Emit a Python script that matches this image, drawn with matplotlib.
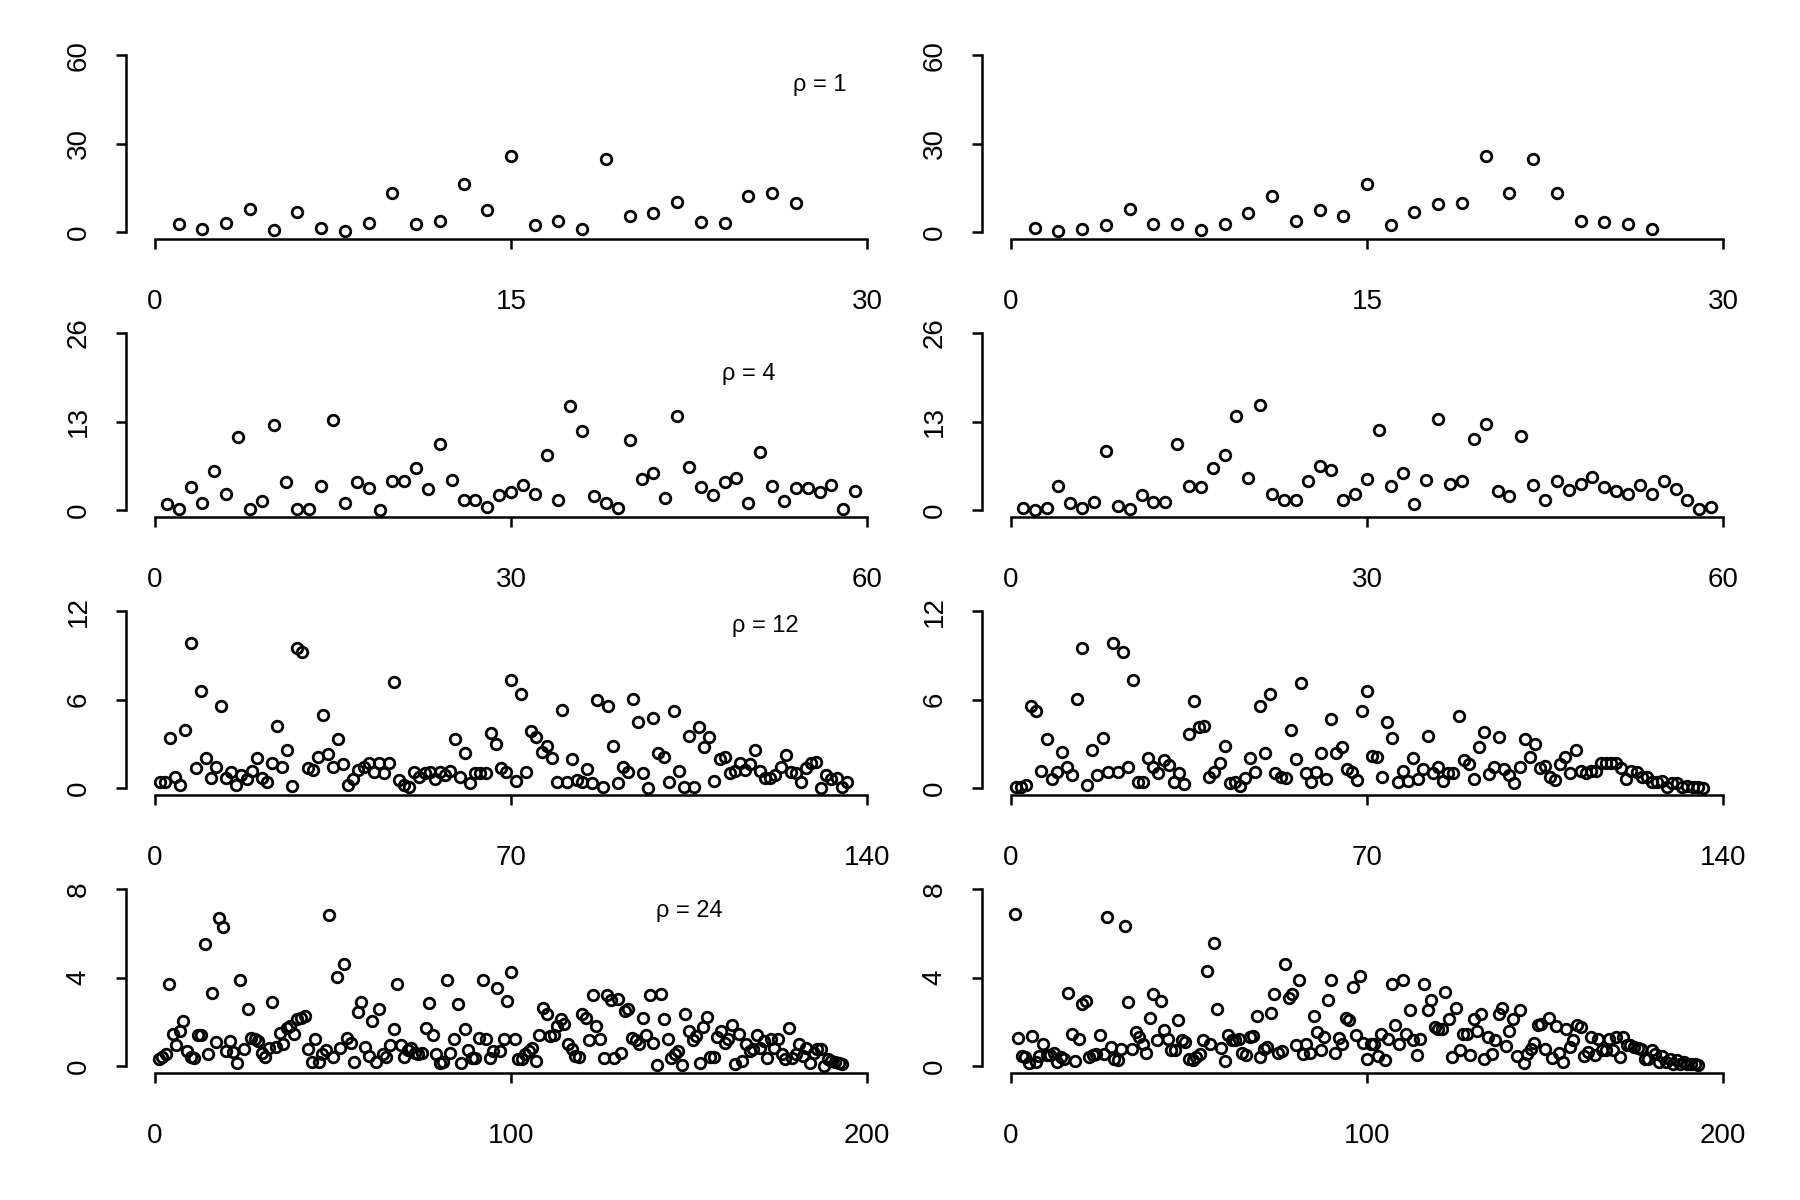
import numpy as np
import matplotlib
matplotlib.use("Agg")
import matplotlib.pyplot as plt

plt.rcParams["font.family"] = ["Liberation Sans", "DejaVu Sans"]

# valores (coluna esquerda / coluna direita)
rho = [1, 4, 12, 24]
x_max = [30, 60, 140, 200]
y_max = [60, 26, 12, 8]
x_ticks = [[0, 15, 30], [0, 30, 60], [0, 70, 140], [0, 100, 200]]
y_ticks = [[0, 30, 60], [0, 13, 26], [0, 6, 12], [0, 4, 8]]
rho_pos = [(28, 50), (50, 20), (120, 11), (150, 7)]

r1_left = [2.6, 0.9, 2.9, 7.9, 0.7, 6.8, 1.5, 0.4, 2.9, 13.2, 2.6, 3.7, 16.1, 7.4,
           25.7, 2.4, 3.7, 0.9, 24.9, 5.4, 6.4, 10.0, 3.5, 2.9, 12.3, 13.2, 9.8]
r1_right = [1.5, 0.3, 0.9, 2.4, 7.8, 2.7, 2.6, 0.8, 2.6, 6.4, 12.2, 3.6, 7.4, 5.4,
            16.3, 2.2, 6.8, 9.5, 9.9, 25.8, 13.2, 24.8, 13.3, 3.7, 3.5, 2.8, 0.9]

r2_left = [0.82, 0.19, 3.42, 1.07, 5.72, 2.29, 10.7, 0.09, 1.31, 12.5,
           4.16, 0.19, 0.09, 3.52, 13.27, 1.07, 4.16, 3.27, 0.05, 4.25,
           4.25, 6.17, 3.03, 9.7, 4.45, 1.41, 1.41, 0.43, 2.24, 2.64,
           3.67, 2.29, 8.03, 1.41, 15.3, 11.6, 2.1, 1.02, 0.33, 10.28,
           4.55, 5.38, 1.8, 13.81, 6.31, 3.42, 2.24, 4.06, 4.7, 1.07,
           8.57, 3.52, 1.36, 3.27, 3.27, 2.69, 3.67, 0.09, 2.83]
r2_right = [0.33, 0.04, 0.28, 3.52, 1.02, 0.28, 1.17, 8.62, 0.53, 0.19,
            2.15, 1.12, 1.17, 9.74, 3.47, 3.37, 6.21, 8.13, 13.86, 4.7,
            15.38, 2.39, 1.51, 1.51, 4.25, 6.41, 5.82, 1.51, 2.29, 4.5,
            11.7, 3.47, 5.48, 0.92, 4.35, 13.32, 3.76, 4.25, 10.38, 12.59,
            2.73, 2.0, 10.82, 3.62, 1.51, 4.25, 2.88, 3.76, 4.79, 3.37,
            2.78, 2.29, 3.62, 2.39, 4.25, 3.13, 1.41, 0.19, 0.43]

r3_left = [0.38, 0.42, 3.37, 0.76, 0.2, 3.93, 9.81, 1.33, 6.6, 2.05,
           0.65, 1.44, 5.56, 0.65, 1.06, 0.2, 0.88, 0.58, 1.17, 2.05,
           0.65, 0.42, 1.67, 4.23, 1.44, 2.57, 0.13, 9.47, 9.2, 1.38,
           1.22, 2.12, 4.95, 2.3, 1.44, 3.3, 1.62, 0.2, 0.58, 1.22,
           1.4, 1.67, 1.1, 1.67, 1.04, 1.67, 7.17, 0.54, 0.2, 0.09,
           1.06, 0.76, 0.99, 1.1, 0.58, 1.06, 0.88, 1.15, 3.3, 0.76,
           2.35, 0.36, 0.99, 0.99, 0.99, 3.71, 2.98, 1.33, 1.1, 7.33,
           0.49, 6.38, 1.1, 3.86, 3.48, 2.46, 2.85, 2.01, 0.42, 5.29,
           0.42, 1.94, 0.54, 0.42, 1.28, 0.36, 5.97, 0.09, 5.56, 2.85,
           0.36, 1.44, 1.06, 6.04, 4.45, 0.99, 0.02, 4.72, 2.39, 2.12,
           0.42, 5.24, 1.17, 0.09, 3.52, 0.09, 4.16, 2.8, 3.43, 0.47,
           1.94, 2.12, 0.99, 1.17, 1.67, 1.22, 1.6, 2.57, 1.17, 0.65,
           0.65, 0.88, 1.44, 2.23, 1.1, 0.99, 0.42, 1.33, 1.67, 1.78,
           0.02, 0.88, 0.61, 0.65, 0.09, 0.38]
r3_right = [0.09, 0.09, 0.2, 5.56, 5.22, 1.17, 3.3, 0.61, 1.1, 2.42,
            1.44, 0.88, 6.01, 9.47, 0.2, 2.57, 0.88, 3.41, 1.06, 9.81,
            1.1, 9.2, 1.4, 7.33, 0.42, 0.42, 2.01, 1.44, 0.99, 1.9,
            1.56, 0.42, 1.04, 0.24, 3.66, 5.92, 4.16, 4.23, 0.76, 1.1,
            1.67, 2.87, 0.36, 0.42, 0.13, 0.65, 2.05, 1.1, 5.56, 2.35,
            6.38, 0.99, 0.76, 0.65, 3.93, 1.96, 7.14, 0.99, 0.42, 1.1,
            2.35, 0.61, 4.68, 2.35, 2.8, 1.26, 1.1, 0.54, 5.24, 6.6,
            2.17, 2.12, 0.76, 4.45, 3.37, 0.38, 1.17, 0.47, 2.05, 0.58,
            1.28, 3.55, 0.99, 1.4, 0.47, 0.99, 1.04, 4.9, 1.9, 1.62,
            0.61, 2.8, 3.82, 0.95, 1.4, 3.43, 1.26, 0.88, 0.36, 1.4,
            3.3, 2.12, 2.98, 1.33, 1.49, 0.76, 0.54, 1.62, 2.08, 0.99,
            2.57, 1.17, 0.99, 1.17, 1.17, 1.67, 1.67, 1.67, 1.67, 1.38,
            0.61, 1.17, 1.06, 0.76, 0.76, 0.42, 0.42, 0.49, 0.09, 0.36,
            0.31, 0.04, 0.13, 0.09, 0.04, 0.01]

r4_left = [0.33, 0.4, 0.55, 3.69, 1.43, 0.95, 1.58, 2.03, 0.68, 0.4,
           0.37, 1.4, 1.4, 5.53, 0.52, 3.31, 1.08, 6.71, 6.3, 0.68,
           1.13, 0.65, 0.15, 3.87, 0.75, 2.56, 1.28, 1.2, 1.13, 0.6,
           0.4, 0.83, 2.89, 0.86, 1.51, 1.01, 1.73, 1.81, 1.46, 2.11,
           2.18, 2.26, 0.75, 0.19, 1.2, 0.19, 0.52, 0.71, 6.83, 0.4,
           4.02, 0.83, 4.6, 1.25, 1.05, 0.19, 2.46, 2.89, 0.86, 0.45,
           2.03, 0.19, 2.56, 0.52, 0.4, 0.95, 1.66, 3.69, 0.95, 0.4,
           0.71, 0.83, 0.6, 0.52, 0.6, 1.73, 2.86, 1.4, 0.52, 0.15,
           0.19, 3.87, 0.57, 1.2, 2.79, 0.15, 1.66, 0.71, 0.37, 0.37,
           1.28, 3.87, 1.2, 0.37, 0.68, 3.51, 0.68, 1.2, 2.94, 4.27,
           1.2, 0.3, 0.3, 0.52, 0.68, 0.83, 0.22, 1.4, 2.64, 2.33,
           1.35, 1.4, 1.81, 2.11, 1.88, 0.98, 0.75, 0.45, 0.4, 2.33,
           2.18, 1.16, 3.21, 1.81, 1.2, 0.37, 3.21, 2.97, 0.37, 3.01,
           0.6, 2.49, 2.56, 1.28, 1.16, 0.98, 2.15, 1.4, 3.21, 1.05,
           0.04, 3.27, 2.11, 1.2, 0.37, 0.52, 0.68, 0.04, 2.36, 1.58,
           1.16, 1.35, 0.15, 1.76, 2.21, 0.4, 0.4, 1.31, 1.58, 1.05,
           1.2, 1.85, 0.07, 1.46, 0.22, 0.98, 0.68, 0.75, 1.4, 0.83,
           1.13, 0.37, 1.2, 0.83, 1.2, 0.52, 0.3, 1.7, 0.37, 0.52,
           0.98, 0.45, 0.83, 0.15, 0.6, 0.75, 0.75, 0.0, 0.3, 0.22,
           0.18, 0.15, 0.07]
r4_right = [6.86, 1.26, 0.43, 0.4, 0.13, 1.34, 0.18, 0.43, 0.98, 0.48,
            0.48, 0.58, 0.18, 0.4, 0.33, 3.31, 1.46, 0.21, 1.2, 2.82,
            2.94, 0.4, 0.48, 0.55, 1.41, 0.55, 6.74, 0.86, 0.33, 0.25,
            0.78, 6.33, 2.89, 0.78, 1.54, 1.31, 1.01, 0.58, 2.17, 3.27,
            1.16, 2.94, 1.61, 1.23, 0.71, 0.71, 2.06, 1.16, 1.08, 0.33,
            0.25, 0.4, 0.55, 1.19, 4.3, 1.01, 5.56, 2.59, 0.83, 0.22,
            1.41, 1.16, 1.16, 1.23, 0.58, 0.48, 1.31, 1.34, 2.24, 0.4,
            0.78, 0.86, 2.39, 3.27, 0.58, 0.66, 4.63, 3.09, 3.24, 0.93,
            3.9, 0.55, 1.01, 0.58, 2.24, 1.54, 0.71, 1.31, 3.0, 3.9,
            0.58, 1.28, 1.01, 2.17, 2.06, 3.57, 1.41, 4.05, 1.04, 0.33,
            1.01, 1.01, 0.43, 1.43, 0.25, 1.23, 3.72, 1.84, 1.01, 3.87,
            1.46, 2.55, 1.16, 0.48, 1.23, 3.72, 2.52, 2.97, 1.76, 1.69,
            1.69, 3.35, 2.14, 0.4, 2.64, 0.71, 1.46, 1.46, 0.51, 2.14,
            1.58, 2.36, 0.33, 1.31, 0.55, 1.19, 2.36, 2.64, 0.89, 1.58,
            2.14, 0.43, 2.52, 0.13, 0.55, 0.78, 1.04, 1.84, 1.91, 0.78,
            2.18, 0.37, 1.79, 0.58, 0.18, 1.69, 0.86, 1.16, 1.84, 1.76,
            0.43, 0.63, 1.31, 0.48, 1.23, 0.71, 0.71, 1.23, 0.71, 1.31,
            0.4, 1.31, 0.93, 0.93, 0.86, 0.83, 0.78, 0.33, 0.33, 0.71,
            0.55, 0.18, 0.43, 0.18, 0.33, 0.1, 0.25, 0.1, 0.18, 0.07,
            0.07, 0.07, 0.03]

left_cols = [r1_left, r2_left, r3_left, r4_left]
right_cols = [r1_right, r2_right, r3_right, r4_right]

W, H = 1800, 1200
fig = plt.figure(figsize=(18, 12), dpi=100)

# posições dos painéis em pixels (estilo R, 4x2)
col_left = [126.5, 982.5]
panel_w = 769
row_top = [48, 326, 604, 882]
panel_h = 191


def painel(ax, vals, k):
    x = np.arange(1, len(vals) + 1)
    ax.plot(x, vals, "o", mfc="none", mec="black", ms=7.6, mew=2.0,
            clip_on=False)
    xm, ym = x_max[k], y_max[k]
    ax.set_xlim(-0.04 * xm, 1.04 * xm)
    ax.set_ylim(-0.04 * ym, 1.04 * ym)
    for s in ["top", "right"]:
        ax.spines[s].set_visible(False)
    ax.spines["bottom"].set_bounds(0, xm)
    ax.spines["left"].set_bounds(0, ym)
    for s in ["bottom", "left"]:
        ax.spines[s].set_linewidth(1.8)
    ax.set_xticks(x_ticks[k])
    ax.set_yticks(y_ticks[k])
    ax.set_yticklabels([str(t) for t in y_ticks[k]], rotation=90,
                       va="center")
    ax.tick_params(axis="both", direction="out", length=7, width=1.8,
                   labelsize=20)
    ax.tick_params(axis="x", pad=29)
    ax.tick_params(axis="y", pad=18)


for k in range(4):
    for c, cols in enumerate([left_cols, right_cols]):
        rect = [col_left[c] / W, 1 - (row_top[k] + panel_h) / H,
                panel_w / W, panel_h / H]
        ax = fig.add_axes(rect)
        painel(ax, cols[k], k)
        if c == 0:
            ax.text(rho_pos[k][0], rho_pos[k][1], f"ρ = {rho[k]}",
                    fontsize=17, ha="center", va="center")

fig.savefig("out.png", dpi=100, facecolor="white")
